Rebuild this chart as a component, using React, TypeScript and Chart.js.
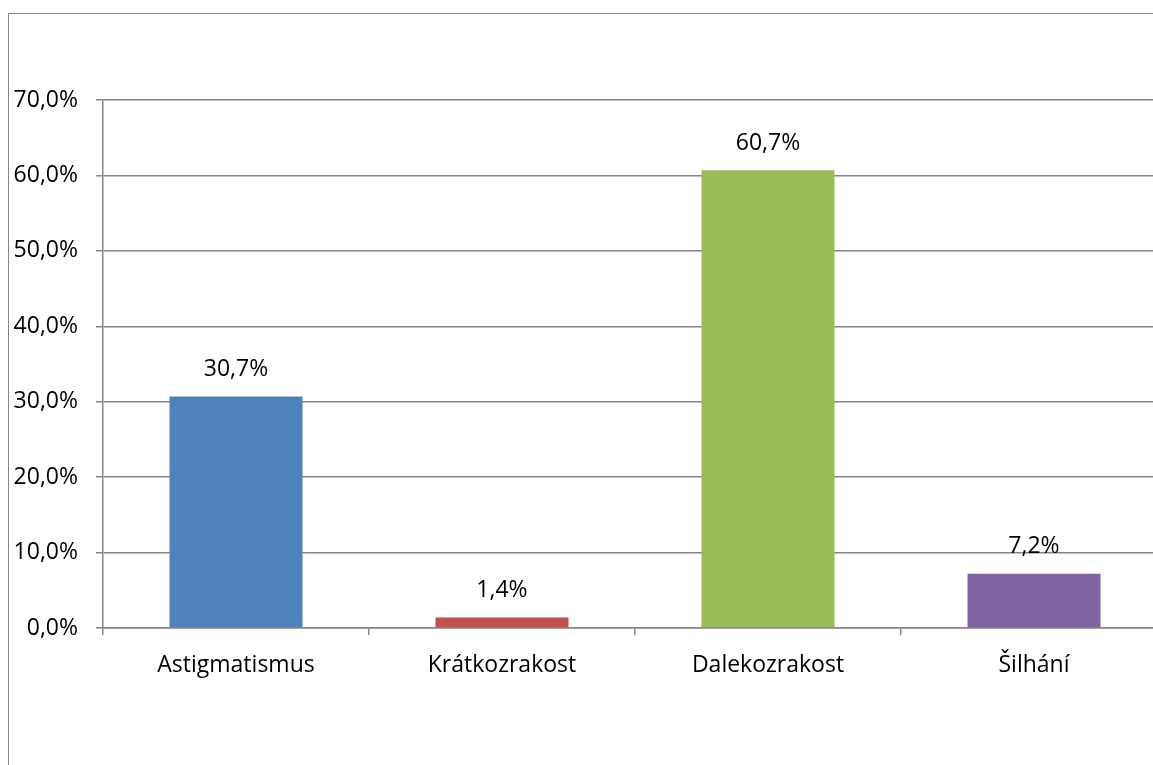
import React, { useEffect, useRef } from "react";
import { Chart, registerables } from "chart.js";

Chart.register(...registerables);

const categories = ["Astigmatismus", "Krátkozrakost", "Dalekozrakost", "Šilhání"];
const values = [30.7, 1.4, 60.7, 7.2];
const barColors = ["#4F81BD", "#C0504D", "#9BBB59", "#8064A2"];
const yMax = 70;
const yStep = 10;

const FONT_FAMILY = "'Open Sans', sans-serif";
const FONT_SIZE = 23;
const GRID = "#868686";
const LINE_W = 1.5;

const fmt = (v: number) => v.toFixed(1).replace(".", ",") + "%";

const barLabels = {
  id: "barLabels",
  afterDatasetsDraw(chart: any) {
    const ctx = chart.ctx;
    const meta = chart.getDatasetMeta(0);
    ctx.save();
    ctx.font = `${FONT_SIZE}px ${FONT_FAMILY}`;
    ctx.fillStyle = "#000";
    ctx.textAlign = "center";
    ctx.textBaseline = "middle";
    meta.data.forEach((el: any, i: number) => {
      const v = chart.data.datasets[0].data[i] as number;
      ctx.fillText(fmt(v), el.x, el.y - 27);
    });
    ctx.restore();
  },
};

export default function App() {
  const ref = useRef<HTMLCanvasElement>(null);
  useEffect(() => {
    if (!ref.current) return;
    const chart = new Chart(ref.current, {
      type: "bar",
      data: {
        labels: categories,
        datasets: [
          {
            data: values,
            backgroundColor: barColors,
            borderWidth: 0,
            barPercentage: 0.5,
            categoryPercentage: 1,
          },
        ],
      },
      options: {
        responsive: false,
        animation: false,
        layout: { padding: { left: 0, top: 86, right: 42, bottom: 126 } },
        plugins: {
          legend: { display: false },
          tooltip: { enabled: false },
        },
        scales: {
          x: {
            offset: true,
            grid: {
              offset: true,
              drawOnChartArea: false,
              drawTicks: true,
              tickLength: 7,
              color: GRID,
              lineWidth: LINE_W,
            },
            border: { display: true, color: GRID, width: LINE_W },
            ticks: {
              color: "#000",
              font: { family: FONT_FAMILY, size: FONT_SIZE },
              padding: 17,
              maxRotation: 0,
              autoSkip: false,
            },
            afterFit: (s: any) => {
              s.height = 60;
            },
          },
          y: {
            min: 0,
            max: yMax,
            ticks: {
              stepSize: yStep,
              color: "#000",
              font: { family: FONT_FAMILY, size: FONT_SIZE },
              padding: 18,
              callback: (v: any) => fmt(Number(v)),
            },
            grid: {
              color: GRID,
              lineWidth: LINE_W,
              tickLength: 7,
              drawTicks: true,
            },
            border: { display: true, color: GRID, width: LINE_W },
            afterFit: (s: any) => {
              s.width = 94;
            },
          },
        },
      },
      plugins: [barLabels],
    });
    return () => chart.destroy();
  }, []);

  return (
    <div
      style={{
        position: "fixed",
        left: 0,
        top: 0,
        width: 1153,
        height: 765,
        overflow: "hidden",
        background: "#fff",
      }}
    >
      <div
        style={{
          position: "absolute",
          left: 8,
          top: 13,
          border: `1.5px solid ${GRID}`,
          width: 1200,
          height: 800,
        }}
      >
        <canvas ref={ref} width={1200} height={800} style={{ display: "block" }} />
      </div>
    </div>
  );
}
